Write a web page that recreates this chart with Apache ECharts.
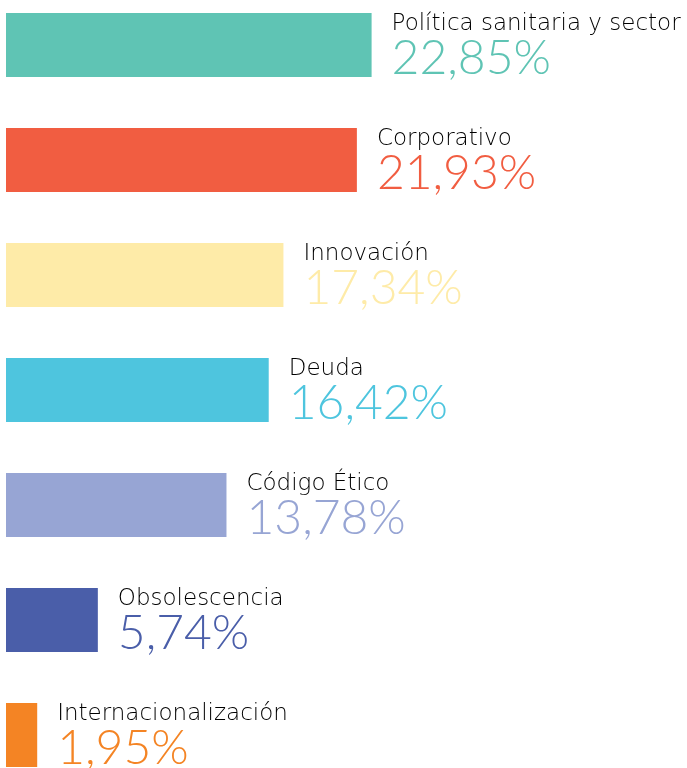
<!DOCTYPE html>
<html>
<head>
<meta charset="utf-8">
<script src="https://cdn.jsdelivr.net/npm/echarts@6/dist/echarts.min.js"></script>
<style>
  html, body { margin: 0; padding: 0; background: #fff; }
  #chart { width: 687px; height: 768px; }
</style>
</head>
<body>
<div id="chart"></div>
<script>
const categories = ['Política sanitaria y sector', 'Corporativo', 'Innovación', 'Deuda', 'Código Ético', 'Obsolescencia', 'Internacionalización'];
const values = [22.85, 21.93, 17.34, 16.42, 13.78, 5.74, 1.95];
const colors = ['#5FC4B4', '#F15D41', '#FEEBA8', '#4EC5DE', '#97A5D4', '#4A5EA9', '#F48424'];

const chart = echarts.init(document.getElementById('chart'));

const option = {
  animation: false,
  grid: {
    left: 6,
    right: 41,
    top: -12.5,
    bottom: -24.5,
    outerBoundsMode: 'none'
  },
  xAxis: {
    type: 'value',
    min: 0,
    max: 40,
    show: false
  },
  yAxis: {
    type: 'category',
    inverse: true,
    data: categories,
    show: false
  },
  series: [{
    type: 'bar',
    barWidth: 64,
    data: values.map((v, i) => ({
      value: v,
      itemStyle: { color: colors[i] },
      label: { rich: { v: { color: colors[i] } } }
    })),
    label: {
      show: true,
      position: 'right',
      distance: 20,
      offset: [0, 2],
      formatter: p => '{n|' + p.name + '}\n{v|' + p.value.toFixed(2).replace('.', ',') + '%}',
      rich: {
        n: {
          fontFamily: 'DejaVu Sans',
          fontWeight: 200,
          fontSize: 23,
          color: '#000',
          lineHeight: 24
        },
        v: {
          fontFamily: 'Lato',
          fontWeight: 300,
          fontSize: 48,
          lineHeight: 46
        }
      }
    }
  }]
};

chart.setOption(option);
</script>
</body>
</html>
